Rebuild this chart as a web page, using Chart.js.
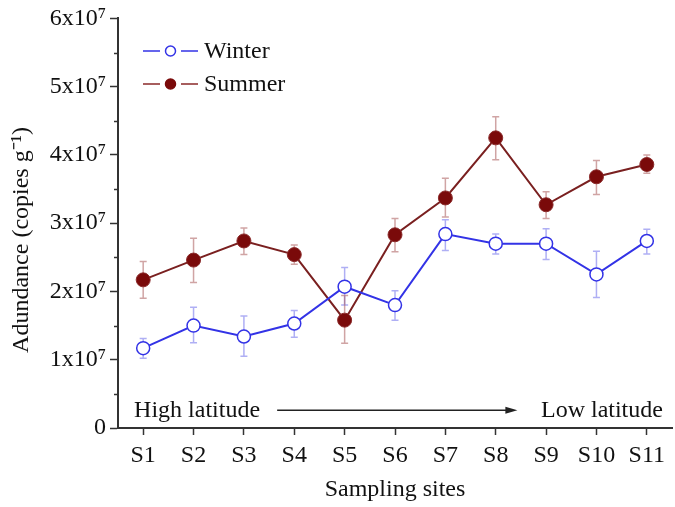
<!DOCTYPE html>
<html>
<head>
<meta charset="utf-8">
<script src="https://cdn.jsdelivr.net/npm/chart.js@4"></script>
<style>
  html, body { margin: 0; padding: 0; background: #fff; }
  #wrap { width: 675px; height: 507px; }
</style>
</head>
<body>
<div id="wrap"><canvas id="chart" width="675" height="507"></canvas></div>
<script>
// values in units of 10^7 copies g-1
const sites = ['S1', 'S2', 'S3', 'S4', 'S5', 'S6', 'S7', 'S8', 'S9', 'S10', 'S11'];
const winterValues = [1.17, 1.50, 1.34, 1.53, 2.07, 1.80, 2.84, 2.70, 2.70, 2.25, 2.74];
const winterHigh = [1.31, 1.77, 1.64, 1.72, 2.35, 2.01, 3.05, 2.84, 2.92, 2.59, 2.91];
const winterLow = [1.02, 1.25, 1.05, 1.33, 1.80, 1.58, 2.60, 2.55, 2.47, 1.91, 2.55];
const summerValues = [2.17, 2.46, 2.74, 2.54, 1.58, 2.83, 3.37, 4.25, 3.27, 3.68, 3.86];
const summerHigh = [2.44, 2.78, 2.93, 2.68, 1.94, 3.07, 3.66, 4.56, 3.46, 3.92, 4.00];
const summerLow = [1.90, 2.13, 2.54, 2.40, 1.24, 2.58, 3.09, 3.93, 3.07, 3.42, 3.73];
const yTicks = [0, 1, 2, 3, 4, 5, 6];

const FONT = '"Liberation Serif", "Times New Roman", serif';
const winterColor = '#3333e6';
const summerColor = '#7a0a0a';

const toPoints = (vals) => vals.map((v, i) => ({x: i + 1, y: v}));

// error bars, drawn behind the markers
const errorBars = {
    id: 'errorBars',
    beforeDatasetsDraw(chart) {
        const {ctx, scales: {x, y}} = chart;
        const sets = [
            {hi: winterHigh, lo: winterLow, color: 'rgba(110,110,235,0.55)'},
            {hi: summerHigh, lo: summerLow, color: 'rgba(170,90,90,0.55)'}
        ];
        ctx.save();
        ctx.lineWidth = 1.5;
        sets.forEach(set => {
            ctx.strokeStyle = set.color;
            set.hi.forEach((h, i) => {
                const px = x.getPixelForValue(i + 1);
                const top = y.getPixelForValue(h);
                const bot = y.getPixelForValue(set.lo[i]);
                ctx.beginPath();
                ctx.moveTo(px, top); ctx.lineTo(px, bot);
                ctx.moveTo(px - 3.5, top); ctx.lineTo(px + 3.5, top);
                ctx.moveTo(px - 3.5, bot); ctx.lineTo(px + 3.5, bot);
                ctx.stroke();
            })
        })
        ctx.restore();
    }
}

// minor y ticks, y title, legend and the latitude note
const extras = {
    id: 'extras',
    afterDraw(chart) {
        const {ctx, scales: {x, y}} = chart;
        ctx.save();
        ctx.strokeStyle = '#333';
        ctx.lineWidth = 1.5;
        for (let v = 0.5; v < 6; v += 1) {
            const py = Math.round(y.getPixelForValue(v)) + 0.5;
            ctx.beginPath();
            ctx.moveTo(y.right - 4, py); ctx.lineTo(y.right, py);
            ctx.stroke();
        }

        // y title, a little below the axis centre as in the original
        ctx.save();
        ctx.translate(22, 240);
        ctx.rotate(-Math.PI / 2);
        ctx.font = `24px ${FONT}`;
        ctx.fillStyle = '#111';
        ctx.textAlign = 'center';
        ctx.textBaseline = 'middle';
        ctx.fillText('Adundance (copies g⁻¹)', 0, 0);
        ctx.restore();

        // legend
        const items = [
            {label: 'Winter', color: winterColor, fill: '#fff', line: winterColor},
            {label: 'Summer', color: summerColor, fill: summerColor, line: '#8a2a2a'}
        ];
        ctx.font = `24px ${FONT}`;
        ctx.textBaseline = 'middle';
        ctx.textAlign = 'left';
        items.forEach((it, i) => {
            const cy = 51 + i * 33;
            ctx.strokeStyle = it.line;
            ctx.lineWidth = 1.5;
            ctx.beginPath();
            ctx.moveTo(143, cy); ctx.lineTo(160, cy);
            ctx.moveTo(181, cy); ctx.lineTo(198, cy);
            ctx.stroke();
            ctx.beginPath();
            ctx.arc(170.5, cy, 5, 0, Math.PI * 2);
            ctx.fillStyle = it.fill;
            ctx.fill();
            ctx.strokeStyle = it.color;
            ctx.stroke();
            ctx.fillStyle = '#111';
            ctx.fillText(it.label, 204, cy + 1);
        })

        // High latitude -> Low latitude
        const ny = y.getPixelForValue(0.26);
        ctx.fillStyle = '#111';
        ctx.textAlign = 'left';
        ctx.fillText('High latitude', x.getPixelForValue(0.82), ny);
        ctx.textAlign = 'right';
        ctx.fillText('Low latitude', x.getPixelForValue(11.32), ny);
        const ax0 = x.getPixelForValue(3.66);
        const ax1 = x.getPixelForValue(8.43);
        ctx.strokeStyle = '#222';
        ctx.lineWidth = 1.3;
        ctx.beginPath();
        ctx.moveTo(ax0, ny); ctx.lineTo(ax1 - 8, ny);
        ctx.stroke();
        ctx.fillStyle = '#222';
        ctx.beginPath();
        ctx.moveTo(ax1, ny); ctx.lineTo(ax1 - 12, ny - 3.5); ctx.lineTo(ax1 - 12, ny + 3.5);
        ctx.closePath();
        ctx.fill();
        ctx.restore();
    }
}

const ctx = document.getElementById('chart').getContext('2d');
new Chart(ctx, {
    type: 'line',
    data: {
        datasets: [
            {
                label: 'Winter',
                data: toPoints(winterValues),
                borderColor: winterColor,
                borderWidth: 2,
                pointRadius: 6.5,
                pointBorderWidth: 1.5,
                pointBackgroundColor: '#fff',
                pointBorderColor: winterColor
            },
            {
                label: 'Summer',
                data: toPoints(summerValues),
                borderColor: '#7a2020',
                borderWidth: 2,
                pointRadius: 7,
                pointBorderWidth: 1,
                pointBackgroundColor: summerColor,
                pointBorderColor: '#8a2a2a'
            }
        ]
    },
    options: {
        responsive: false,
        animation: false,
        layout: {autoPadding: false, padding: {top: 8, right: 3, left: 0, bottom: 0}},
        plugins: {legend: {display: false}, tooltip: {enabled: false}},
        scales: {
            x: {
                type: 'linear',
                min: 0.5,
                max: 11.5,
                afterBuildTicks: (scale) => {
                    scale.ticks = sites.map((s, i) => ({value: i + 1}));
                },
                ticks: {
                    autoSkip: false,
                    maxRotation: 0,
                    color: '#111',
                    font: {family: FONT, size: 24},
                    padding: 6,
                    callback: (v) => sites[v - 1]
                },
                grid: {drawOnChartArea: false, tickLength: 7, tickColor: '#333', tickWidth: 1.5},
                border: {color: '#333', width: 2},
                title: {
                    display: true,
                    text: 'Sampling sites',
                    color: '#111',
                    font: {family: FONT, size: 24},
                    padding: {top: 2, bottom: 3}
                },
                afterFit: (scale) => {
                    scale.height = 79;
                    scale.paddingLeft = 0;
                    scale.paddingRight = 0;
                }
            },
            y: {
                min: 0,
                max: 6,
                afterBuildTicks: (scale) => {
                    scale.ticks = yTicks.map(v => ({value: v}));
                },
                ticks: {
                    color: '#111',
                    font: {family: FONT, size: 24},
                    padding: 4,
                    callback: (v) => v === 0 ? '0' : `${v}x10⁷`
                },
                grid: {drawOnChartArea: false, tickLength: 8, tickColor: '#333', tickWidth: 1.5},
                border: {color: '#333', width: 2},
                afterFit: (scale) => { scale.width = 118; }
            }
        }
    },
    plugins: [errorBars, extras]
});
</script>
</body>
</html>
